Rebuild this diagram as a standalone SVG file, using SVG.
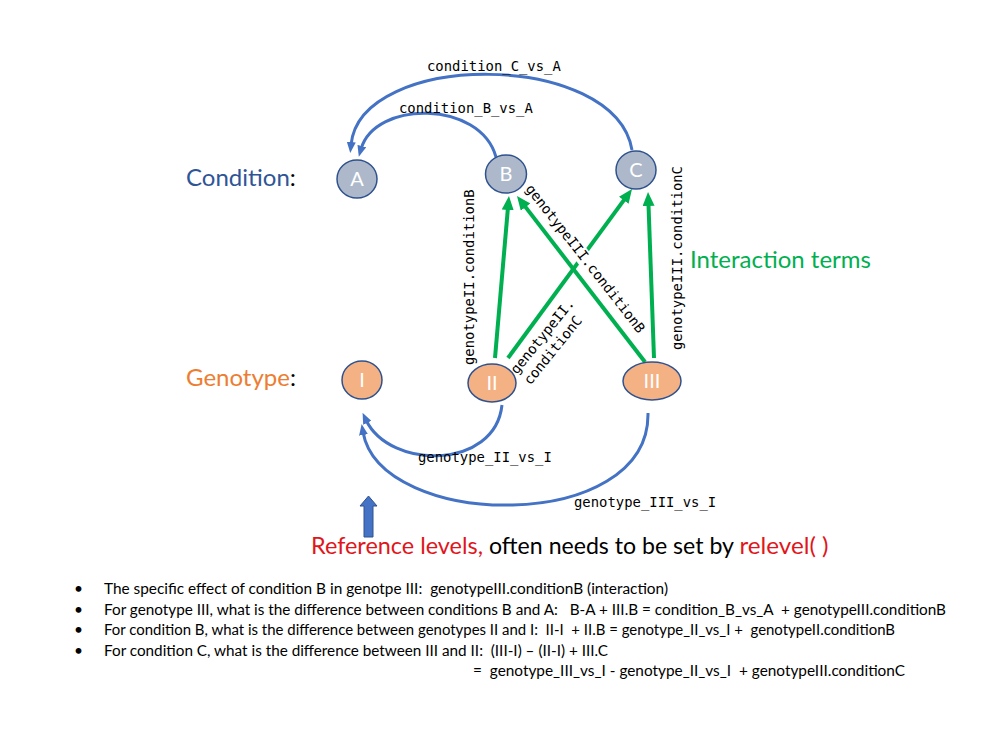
<svg xmlns="http://www.w3.org/2000/svg" width="1000" height="750" viewBox="0 0 1000 750">
<style>
  .cond { fill:#ADB9CA; stroke:#2F528F; stroke-width:1.5; }
  .geno { fill:#F4B183; stroke:#2F528F; stroke-width:1.5; }
  .nlab { font-family:Lato, "Liberation Sans", sans-serif; font-size:20px; fill:#FFFFFF; text-anchor:middle; }
  .blue { fill:none; stroke:#4472C4; stroke-width:3; }
  .green { fill:none; stroke:#00B050; stroke-width:4; }
  .mono { font-family:"DejaVu Sans Mono", "Liberation Mono", monospace; font-size:13.9px; fill:#000; }
  .big { font-family:Lato, "Liberation Sans", sans-serif; font-size:24px; }
  .body { font-family:Lato, "Liberation Sans", sans-serif; font-size:15.5px; fill:#000; white-space:pre; }
</style>
<defs>
  <marker id="arrBlue" viewBox="0 0 11 9" refX="3" refY="4.5" markerWidth="11" markerHeight="9" markerUnits="userSpaceOnUse" orient="auto">
    <path d="M0,0 L11,4.5 L0,9 z" fill="#4472C4"/>
  </marker>
  <marker id="arrGreen" viewBox="0 0 14 12" refX="4" refY="6" markerWidth="14" markerHeight="12" markerUnits="userSpaceOnUse" orient="auto">
    <path d="M0,0 L14,6 L0,12 z" fill="#00B050"/>
  </marker>
</defs>
<rect width="1000" height="750" fill="#FFFFFF"/>

<!-- side titles -->
<text class="big" x="186" y="186"><tspan fill="#2F5597">Condition</tspan><tspan fill="#000">:</tspan></text>
<text class="big" x="186" y="386"><tspan fill="#ED7D31">Genotype</tspan><tspan fill="#000">:</tspan></text>
<text class="big" x="690" y="268" fill="#00B050">Interaction terms</text>

<!-- connectors -->
<g id="connectors">
  <path class="blue" d="M632,150 C 615,50 360,50 351,145" marker-end="url(#arrBlue)"/>
  <path class="blue" d="M496,157 C 480,100 375,100 361,149" marker-end="url(#arrBlue)"/>
  <path class="blue" d="M502,405 C 495,470 390,470 366,420" marker-end="url(#arrBlue)"/>
  <path class="blue" d="M648,413 C 650,535 380,530 363,432" marker-end="url(#arrBlue)"/>
  <line class="green" x1="495" y1="358" x2="508.1" y2="206" marker-end="url(#arrGreen)"/>
  <line class="green" x1="508" y1="358" x2="626.1" y2="197.1" marker-end="url(#arrGreen)"/>
  <line class="green" x1="645" y1="362" x2="523.1" y2="203.9" marker-end="url(#arrGreen)"/>
  <line class="green" x1="654" y1="358" x2="648.4" y2="202" marker-end="url(#arrGreen)"/>
</g>

<!-- connector labels -->
<g id="labels">
  <text class="mono" x="427" y="71">condition_C_vs_A</text>
  <text class="mono" x="399" y="113">condition_B_vs_A</text>
  <text class="mono" x="418" y="462">genotype_II_vs_I</text>
  <text class="mono" x="574" y="507">genotype_III_vs_I</text>
  <text class="mono" transform="translate(474,365) rotate(-90)">genotypeII.conditionB</text>
  <text class="mono" transform="translate(682,350) rotate(-90)">genotypeIII.conditionC</text>
  <g transform="translate(517,375) rotate(-51)">
    <text class="mono" x="0" y="0">genotypeII.</text>
    <text class="mono" x="0" y="17">conditionC</text>
  </g>
  <g transform="translate(525,189) rotate(52)">
    <rect x="-2" y="-12" width="188" height="16" fill="#FFFFFF"/>
    <text class="mono" x="0" y="0">genotypeIII.conditionB</text>
  </g>
</g>

<!-- condition nodes -->
<g id="node-A"><ellipse class="cond" cx="357" cy="179" rx="20" ry="19"/><text class="nlab" x="357" y="186">A</text></g>
<g id="node-B"><ellipse class="cond" cx="506" cy="174" rx="20.5" ry="19"/><text class="nlab" x="506" y="181">B</text></g>
<g id="node-C"><ellipse class="cond" cx="636" cy="170" rx="20" ry="19"/><text class="nlab" x="636" y="177">C</text></g>

<!-- genotype nodes -->
<g id="node-I"><ellipse class="geno" cx="362" cy="380" rx="20" ry="19"/><text class="nlab" x="362" y="387">I</text></g>
<g id="node-II"><ellipse class="geno" cx="492" cy="383" rx="24" ry="19"/><text class="nlab" x="492" y="390">II</text></g>
<g id="node-III"><ellipse class="geno" cx="652" cy="381" rx="29" ry="19"/><text class="nlab" x="652" y="388">III</text></g>

<!-- reference level arrow -->
<g id="ref-arrow">
  <polygon points="364,537 364,506 360,506 368.5,496 377,506 373,506 373,537" fill="#4472C4" stroke="#2F528F" stroke-width="1"/>
</g>
<g id="ref-text">
  <text class="big" x="311" y="554" fill="#E0161B" textLength="172" lengthAdjust="spacingAndGlyphs">Reference levels,</text>
  <text class="big" x="489" y="554" fill="#000" textLength="245" lengthAdjust="spacingAndGlyphs">often needs to be set by</text>
  <text class="big" x="739.5" y="554" fill="#E0161B" textLength="89" lengthAdjust="spacingAndGlyphs" style="white-space:pre">relevel( )</text>
</g>

<!-- bullet notes -->
<g id="notes">
  <text class="body" x="74" y="594">•</text>
  <text class="body" x="74" y="614.5">•</text>
  <text class="body" x="74" y="635">•</text>
  <text class="body" x="74" y="655.5">•</text>
  <text class="body" x="104" y="594" textLength="564" lengthAdjust="spacingAndGlyphs">The specific effect of condition B in genotpe III:  genotypeIII.conditionB (interaction)</text>
  <text class="body" x="104" y="614.5" textLength="842" lengthAdjust="spacingAndGlyphs">For genotype III, what is the difference between conditions B and A:   B-A + III.B = condition_B_vs_A  + genotypeIII.conditionB</text>
  <text class="body" x="104" y="635" textLength="791" lengthAdjust="spacingAndGlyphs">For condition B, what is the difference between genotypes II and I:  II-I  + II.B = genotype_II_vs_I +  genotypeII.conditionB</text>
  <text class="body" x="104" y="655.5" textLength="504" lengthAdjust="spacingAndGlyphs">For condition C, what is the difference between III and II:  (III-I) – (II-I) + III.C</text>
  <text class="body" x="473" y="676" textLength="432" lengthAdjust="spacingAndGlyphs">=  genotype_III_vs_I - genotype_II_vs_I  + genotypeIII.conditionC</text>
</g>
</svg>
